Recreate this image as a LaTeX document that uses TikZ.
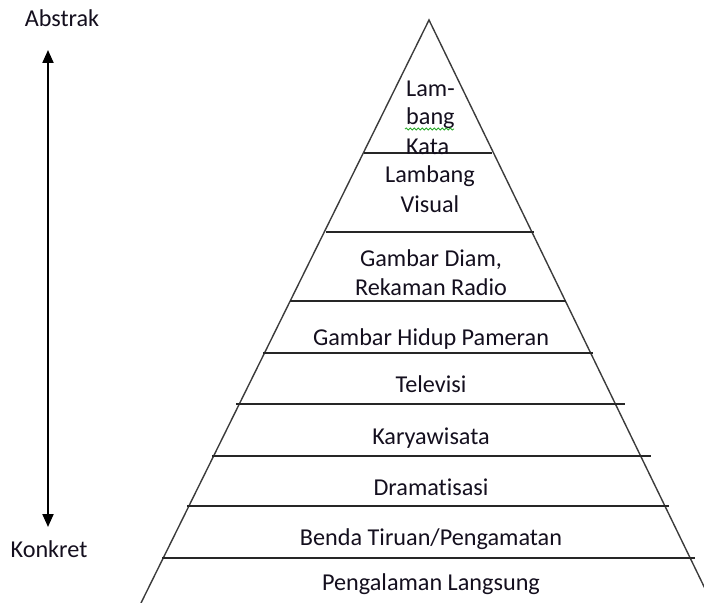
\documentclass[tikz,border=0pt]{standalone}
\usepackage{fontspec}
\setmainfont[Ligatures={NoCommon}]{Carlito}
\usetikzlibrary{arrows.meta,decorations.pathmorphing}
\definecolor{edgegray}{RGB}{60,60,60}
\definecolor{txt}{RGB}{20,15,30}
\definecolor{spellgreen}{RGB}{40,170,40}
\begin{document}
\begin{tikzpicture}[x=1bp,y=-1bp,
  lbl/.style={anchor=base,inner sep=0pt,text=txt,font=\fontsize{24.3pt}{29pt}\selectfont},
  lblleft/.style={lbl,anchor=base west},
  edge/.style={draw=edgegray,line width=1.4bp},
  band/.style={draw=black!85,line width=1.7bp},
  axis/.style={draw=black,line width=2bp,{Triangle[width=11bp,length=13bp]}-{Triangle[width=11bp,length=13bp]}}]
\useasboundingbox (0,0) rectangle (704,603);
\clip (0,0) rectangle (704,603);
% pyramid
\coordinate (apex) at (429,20);
\coordinate (bl) at (141,603);
\coordinate (br) at (712,603);
\draw[edge] (bl) -- (apex) -- (br);
% band lines
\draw[band] (364,153) -- (492,153);
\draw[band] (326,232) -- (534,232);
\draw[band] (290,301) -- (566,301);
\draw[band] (263,353) -- (593,353);
\draw[band] (236,404) -- (625,404);
\draw[band] (212,456) -- (651,456);
\draw[band] (187,506) -- (669,506);
\draw[band] (162,558) -- (695,558);
% labels
\node[lblleft] (l1a) at (406,97) {Lam-};
\node[lblleft] (l1b) at (406,125) {bang};
\node[lblleft] (l1c) at (406,155) {Kata};
\coordinate (wa) at (405,129);
\coordinate (wb) at (454,129);
\draw[spellgreen,line width=0.8bp,decorate,decoration={snake,amplitude=1.1bp,segment length=4bp}] (wa) -- (wb);
\node[lbl] (l2a) at (430,183) {Lambang};
\node[lbl] (l2b) at (430,212) {Visual};
\node[lbl] (l3a) at (431,266) {Gambar Diam,};
\node[lbl] (l3b) at (431,295) {Rekaman Radio};
\node[lbl] (l4) at (431,345) {Gambar Hidup Pameran};
\node[lbl] (l5) at (431,392) {Televisi};
\node[lbl] (l6) at (431,444) {Karyawisata};
\node[lbl] (l7) at (431,495) {Dramatisasi};
\node[lbl] (l8) at (431,545) {Benda Tiruan/Pengamatan};
\node[lbl] (l9) at (431,590) {Pengalaman Langsung};
% axis
\node[lbl] (abs) at (62,27) {Abstrak};
\node[lbl] (kon) at (49,557) {Konkret};
\coordinate (atop) at (48,50);
\coordinate (abot) at (48,527);
\draw[axis] (atop) -- (abot);
\end{tikzpicture}
\end{document}
